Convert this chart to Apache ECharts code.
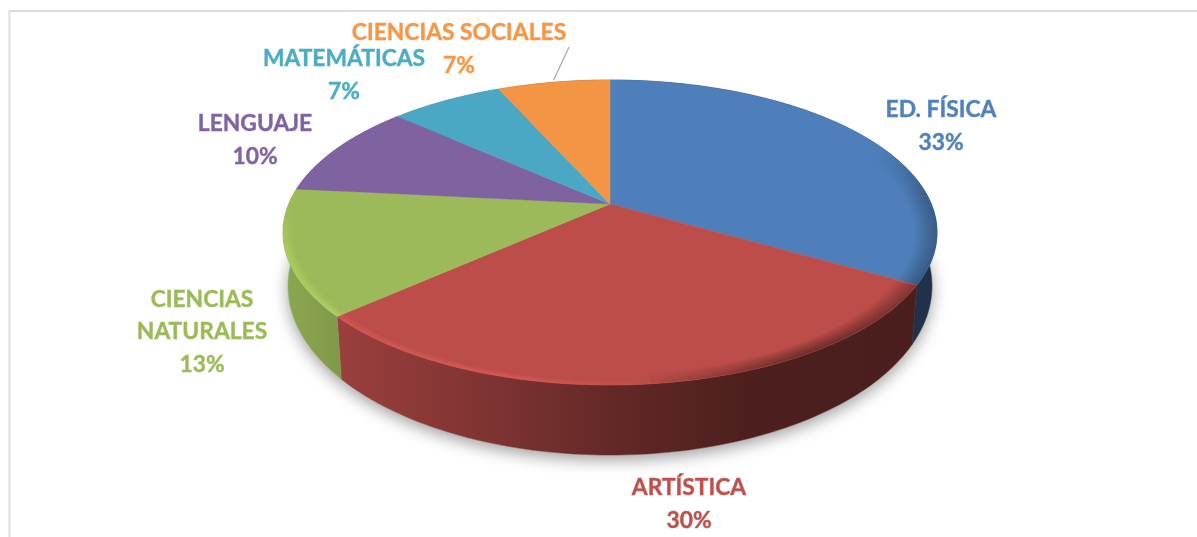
<!DOCTYPE html>
<html>
<head>
<meta charset="utf-8">
<style>
  html, body { margin: 0; padding: 0; background: #fff; }
  #chart { width: 1197px; height: 537px; }
</style>
<script src="https://cdn.jsdelivr.net/npm/echarts@6/dist/echarts.min.js"></script>
</head>
<body>
<div id="chart"></div>
<script>
// datos (los porcentajes salen de un total de 30)
var categories = ['ED. FÍSICA', 'ARTÍSTICA', 'CIENCIAS\nNATURALES', 'LENGUAJE', 'MATEMÁTICAS', 'CIENCIAS SOCIALES'];
var values = [10, 9, 4, 3, 2, 2];

var topColors = ['#4f7fba', '#bc4d4a', '#9cba5a', '#7f62a0', '#4aa8c4', '#f39544'];
var textColors = ['#4f81bd', '#c0504d', '#9bbb59', '#8064a2', '#4bacc6', '#f79646'];
var labelCenters = [[941, 126], [689, 504], [202, 332], [255, 140], [344, 75], [459, 49]];
var leaderEnd = { 5: [569, 47] };

// geometria de la tarta en perspectiva
var cx = 610, cy = 232.5, rx = 327, ry = 152.5;
var floorCy = 286, floorRx = 322, floorRy = 169;
var k = -0.187, squeeze = Math.sqrt(1 - k * k);
var total = values.reduce(function (a, b) { return a + b; }, 0);
var starts = [];
values.reduce(function (acc, v, i) { starts[i] = acc; return acc + v; }, 0);

function unit(frac) {
  var a = 2 * Math.PI * frac;
  var u = Math.sin(a), v = -Math.cos(a), w = 1 + k * v;
  return [u * squeeze / w, (v + k) / w];
}
function rim(frac, r) {
  var p = unit(frac);
  return [cx + rx * p[0] * (r || 1), cy + ry * p[1] * (r || 1)];
}
function floor(frac) {
  var p = unit(frac);
  return [cx + floorRx * p[0], floorCy + floorRy * p[1]];
}
function arc(fn, from, to) {
  var pts = [], n = Math.max(2, Math.ceil((to - from) * 300));
  for (var i = 0; i <= n; i++) pts.push(fn(from + (to - from) * i / n));
  return pts;
}
function range(i) {
  return [starts[i] / total, (starts[i] + values[i]) / total];
}
function shade(c, f) {
  var n = parseInt(c.slice(1), 16);
  var ch = [n >> 16, (n >> 8) & 255, n & 255].map(function (x) { return Math.min(255, Math.round(x * f)); });
  return ch;
}
function rgb(c, f) { return 'rgb(' + shade(c, f).join(',') + ')'; }
function rgba(c, f, a) { return 'rgba(' + shade(c, f).join(',') + ',' + a.toFixed(3) + ')'; }
function wallFill(color) {
  var stops = [[284, 0.9], [340, 0.82], [500, 0.66], [620, 0.52], [740, 0.41], [938, 0.39]];
  return new echarts.graphic.LinearGradient(284, 0, 938, 0, stops.map(function (s) {
    return { offset: (s[0] - 284) / 654, color: rgb(color, s[1]) };
  }), true);
}
function clamp(x) { return Math.max(0, Math.min(1, x)); }

function renderShadow(params) {
  var r = range(params.dataIndex);
  return {
    type: 'polygon',
    shape: { points: arc(floor, r[0], r[1]).concat([[cx, floorCy - 30]]) },
    style: { fill: '#fff', shadowColor: 'rgba(0,0,0,0.38)', shadowBlur: 16, shadowOffsetY: 5 }
  };
}
function renderWall(params) {
  var r = range(params.dataIndex);
  var fill = wallFill(topColors[params.dataIndex]);
  return {
    type: 'polygon',
    shape: { points: arc(rim, r[0], r[1]).concat(arc(floor, r[0], r[1]).reverse()) },
    style: { fill: fill, stroke: fill, lineWidth: 0.5 }
  };
}
function renderTop(params) {
  var i = params.dataIndex, r = range(i), children = [];
  children.push({
    type: 'polygon',
    shape: { points: arc(function (f) { return rim(f); }, r[0], r[1]).concat([[cx, cy + ry * k]]) },
    style: { fill: topColors[i], stroke: topColors[i], lineWidth: 0.5 }
  });
  // bisel del borde: claro a la izquierda, oscuro a la derecha
  var steps = Math.ceil((r[1] - r[0]) * 260);
  for (var s = 0; s < steps; s++) {
    var f0 = r[0] + (r[1] - r[0]) * s / steps, f1 = r[0] + (r[1] - r[0]) * (s + 1) / steps;
    var p = unit((f0 + f1) / 2);
    var light = clamp((p[1] + 0.2) / 0.3) * clamp((0.2 - p[0]) / 0.5);
    var dark = clamp((p[0] - 0.1) / 0.5) * clamp((p[1] + 0.55) / 0.35);
    for (var l = 0; l < 10; l++) {
      if (light > 0.02 && l < 5) {
        var a = rim(f0, 0.997 - 0.006 * l), b = rim(f1, 0.997 - 0.006 * l);
        children.push({
          type: 'line',
          shape: { x1: a[0], y1: a[1], x2: b[0], y2: b[1] },
          style: { stroke: rgba(topColors[i], 1.22, 0.42 * light * (1 - l / 5)), lineWidth: 2 }
        });
      }
      if (dark > 0.02) {
        var c = rim(f0, 0.997 - 0.007 * l), d = rim(f1, 0.997 - 0.007 * l);
        children.push({
          type: 'line',
          shape: { x1: c[0], y1: c[1], x2: d[0], y2: d[1] },
          style: { stroke: 'rgba(0,0,0,' + (0.24 * dark * (1 - l / 10)).toFixed(3) + ')', lineWidth: 2.5 }
        });
      }
    }
  }
  return { type: 'group', children: children };
}
function renderLabel(params, api) {
  var i = params.dataIndex, children = [];
  children.push({
    type: 'text',
    style: {
      x: labelCenters[i][0], y: labelCenters[i][1],
      text: categories[i] + '\n' + Math.round(api.value(0) / total * 100) + '%',
      fill: textColors[i],
      stroke: textColors[i],
      lineWidth: 0.4,
      font: 'bold 22.8px Lato',
      lineHeight: 32.5,
      align: 'center', verticalAlign: 'middle'
    }
  });
  if (leaderEnd[i]) {
    var r = range(i), a = rim((r[0] + r[1]) / 2);
    children.push({
      type: 'line',
      shape: { x1: a[0], y1: a[1] - 2, x2: leaderEnd[i][0], y2: leaderEnd[i][1] },
      style: { stroke: '#a6a6a6', lineWidth: 1.2 }
    });
  }
  return { type: 'group', children: children };
}

function customSeries(z, fn) {
  return { type: 'custom', coordinateSystem: 'none', z: z, silent: true, animation: false, data: values, renderItem: fn };
}

var myChart = echarts.init(document.getElementById('chart'), null, { renderer: 'canvas' });
myChart.setOption({
  animation: false,
  backgroundColor: '#fff',
  graphic: [{
    type: 'polyline',
    silent: true,
    shape: { points: [[9.5, 537], [9.5, 11], [1197, 11]] },
    style: { stroke: '#dcdcdc', lineWidth: 2, fill: null }
  }],
  series: [
    customSeries(1, renderShadow),
    customSeries(2, renderWall),
    customSeries(3, renderTop),
    customSeries(4, renderLabel)
  ]
});
</script>
</body>
</html>
